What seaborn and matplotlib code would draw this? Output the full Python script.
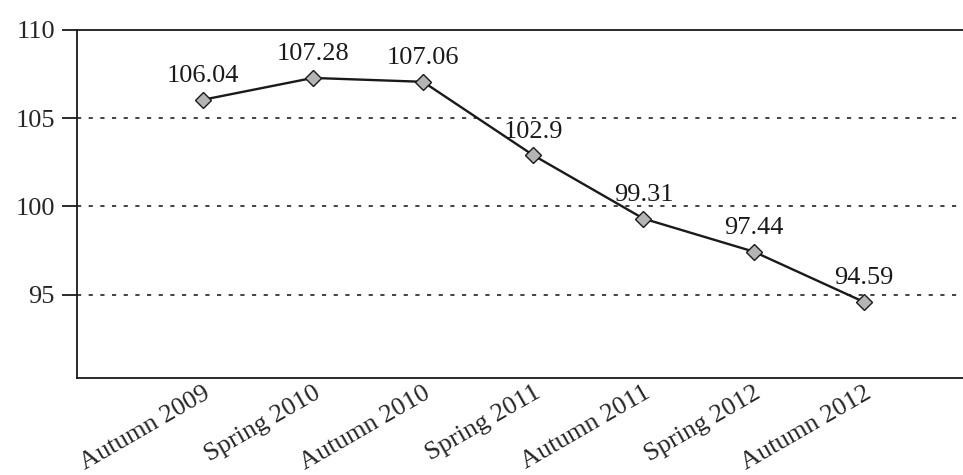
import seaborn as sns
import matplotlib.pyplot as plt
import pandas as pd

# values
seasons = ['Autumn 2009', 'Spring 2010', 'Autumn 2010', 'Spring 2011',
           'Autumn 2011', 'Spring 2012', 'Autumn 2012']
index_values = [106.04, 107.28, 107.06, 102.9, 99.31, 97.44, 94.59]
y_ticks = [95, 100, 105, 110]

df = pd.DataFrame({'Season': seasons, 'Index': index_values})
df['pos'] = range(len(df))

sns.set_style('white')
plt.rcParams['font.family'] = ['Liberation Serif', 'DejaVu Serif']

fig, ax = plt.subplots(figsize=(9.63, 4.75), dpi=100)
fig.subplots_adjust(left=0.08, right=1.0, top=0.937, bottom=0.205)

sns.lineplot(x='pos', y='Index', data=df, ax=ax, color='#1a1a1a', linewidth=1.7,
             marker='D', markersize=8.5, markerfacecolor='#b4b4b4',
             markeredgecolor='#1a1a1a', markeredgewidth=1.0)

for x, y in zip(df['pos'], df['Index']):
    ax.annotate(f'{y:g}', (x, y), xytext=(0, 9), textcoords='offset points',
                ha='center', va='bottom', fontsize=19, color='#1a1a1a')

ax.set_xlim(-1.14, 6.9)
ax.set_ylim(90.3, 110)
ax.set_yticks(y_ticks)
ax.set_yticklabels([str(t) for t in y_ticks], fontsize=19)
ax.set_xticks(df['pos'])
ax.set_xticklabels(seasons, fontsize=19, rotation=30, ha='right',
                   rotation_mode='anchor')
ax.tick_params(axis='y', direction='out', length=11, width=1.3, color='#1a1a1a',
               left=True, pad=5)
ax.tick_params(axis='x', length=0, pad=3)

for yv in y_ticks[:-1]:
    ax.axhline(yv, color='#222222', linestyle=(0, (2.5, 4.5)), linewidth=1.2, zorder=0)

for side in ['left', 'bottom', 'top']:
    ax.spines[side].set_color('#1a1a1a')
    ax.spines[side].set_linewidth(1.3)
ax.spines['right'].set_visible(False)
ax.set_xlabel('')
ax.set_ylabel('')

fig.savefig('out.png', dpi=100)
